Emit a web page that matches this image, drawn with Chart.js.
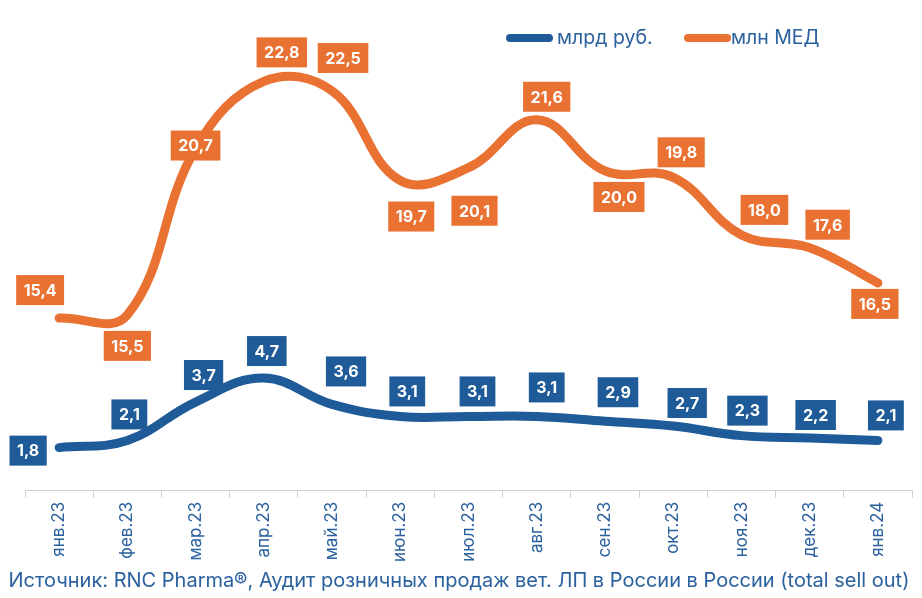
<!DOCTYPE html>
<html>
<head>
    <title>Продажи вет. ЛП</title>
    <script src="https://cdn.jsdelivr.net/npm/chart.js"></script>
    <style>
        body { margin: 0; background: #ffffff; }
        .chart-box { width: 922px; height: 598px; position: relative; }
    </style>
</head>
<body>
    <div class="chart-box">
        <canvas id="chart-sales"></canvas>
    </div>

    <script>
        // Данные с графика
        const meses = ["янв.23", "фев.23", "мар.23", "апр.23", "май.23", "июн.23", "июл.23",
                       "авг.23", "сен.23", "окт.23", "ноя.23", "дек.23", "янв.24"];
        const mlrdRub = [1.8, 2.1, 3.7, 4.7, 3.6, 3.1, 3.1, 3.1, 2.9, 2.7, 2.3, 2.2, 2.1];
        const mlnMed = [15.4, 15.5, 20.7, 22.8, 22.5, 19.7, 20.1, 21.6, 20.0, 19.8, 18.0, 17.6, 16.5];

        // Сдвиги подписей относительно точек (px)
        const rubDx = [-31, 2, 8, 3, 14, 7, 9, 10, 13, 14, 6, 6, 8];
        const rubDy = [3, -26, -27, -27, -33, -25, -25, -29, -29, -23, -25, -23, -25];
        const medDx = [-19, 0, 0, 18, 11, 11, 6, 10, 14, 8, 23, 18, -3];
        const medDy = [-28, 31, -3, -29, -33, 36, 43, -23, 26, -25, -25, -23, 21];

        const AZUL = "#1F5B98";
        const NARANJA = "#E97132";
        const TEXTO = "#2A619E";
        const fuente = "Inter, 'Noto Sans', sans-serif";

        // Подписи данных в цветных прямоугольниках
        const etiquetasPlugin = {
            id: "etiquetas",
            afterDatasetsDraw(chart) {
                const ctx = chart.ctx;
                ctx.save();
                ctx.font = "bold 16px " + fuente;
                ctx.textAlign = "center";
                ctx.textBaseline = "middle";
                chart.data.datasets.forEach((ds, i) => {
                    const meta = chart.getDatasetMeta(i);
                    meta.data.forEach((pt, j) => {
                        const txt = ds.data[j].toFixed(1).replace(".", ",");
                        const cx = pt.x + ds.dx[j];
                        const cy = pt.y + ds.dy[j];
                        const w = ctx.measureText(txt).width + 15;
                        const h = 30;
                        ctx.fillStyle = ds.borderColor;
                        ctx.fillRect(cx - w / 2, cy - h / 2, w, h);
                        ctx.fillStyle = "#ffffff";
                        ctx.fillText(txt, cx, cy + 1);
                    });
                });
                ctx.restore();
            }
        };

        // Легенда и источник
        const extrasPlugin = {
            id: "extras",
            afterDraw(chart) {
                const ctx = chart.ctx;
                ctx.save();
                ctx.lineCap = "round";
                ctx.lineWidth = 8;
                ctx.font = "19.5px " + fuente;
                ctx.textBaseline = "middle";
                ctx.textAlign = "left";

                ctx.strokeStyle = AZUL;
                ctx.beginPath(); ctx.moveTo(510, 38); ctx.lineTo(549, 38); ctx.stroke();
                ctx.fillStyle = TEXTO;
                ctx.fillText("млрд руб.", 557, 38);

                ctx.strokeStyle = NARANJA;
                ctx.beginPath(); ctx.moveTo(688, 38); ctx.lineTo(727, 38); ctx.stroke();
                ctx.fillText("млн МЕД", 731, 38);

                ctx.font = "20px " + fuente;
                ctx.textAlign = "center";
                ctx.fillText("Источник: RNC Pharma®, Аудит розничных продаж вет. ЛП в России в России (total sell out)", 459, 581);
                ctx.restore();
            }
        };

        document.addEventListener("DOMContentLoaded", () => {
            const ctx = document.getElementById("chart-sales").getContext("2d");
            new Chart(ctx, {
                type: "line",
                data: {
                    labels: meses,
                    datasets: [
                        {
                            label: "млрд руб.",
                            data: mlrdRub,
                            yAxisID: "yRub",
                            borderColor: AZUL,
                            dx: rubDx,
                            dy: rubDy
                        },
                        {
                            label: "млн МЕД",
                            data: mlnMed,
                            yAxisID: "yMed",
                            borderColor: NARANJA,
                            dx: medDx,
                            dy: medDy
                        }
                    ]
                },
                options: {
                    responsive: true,
                    maintainAspectRatio: false,
                    animation: false,
                    layout: { padding: { left: 25, right: 10, top: 11, bottom: 32 } },
                    elements: {
                        line: { borderWidth: 9, tension: 0.4, borderCapStyle: "round", borderJoinStyle: "round" },
                        point: { radius: 0 }
                    },
                    scales: {
                        x: {
                            offset: true,
                            grid: { drawOnChartArea: false, drawTicks: true, tickLength: 7, color: "#d0d0d0", offset: true },
                            border: { color: "#d0d0d0", width: 1 },
                            ticks: {
                                minRotation: 90,
                                maxRotation: 90,
                                padding: 4,
                                color: TEXTO,
                                font: { family: fuente, size: 17 }
                            }
                        },
                        yRub: { display: false, min: 0, max: 20 },
                        yMed: { display: false, min: 10, max: 25 }
                    },
                    plugins: {
                        legend: { display: false },
                        tooltip: { enabled: false }
                    }
                },
                plugins: [etiquetasPlugin, extrasPlugin]
            });
        });
    </script>
</body>
</html>
